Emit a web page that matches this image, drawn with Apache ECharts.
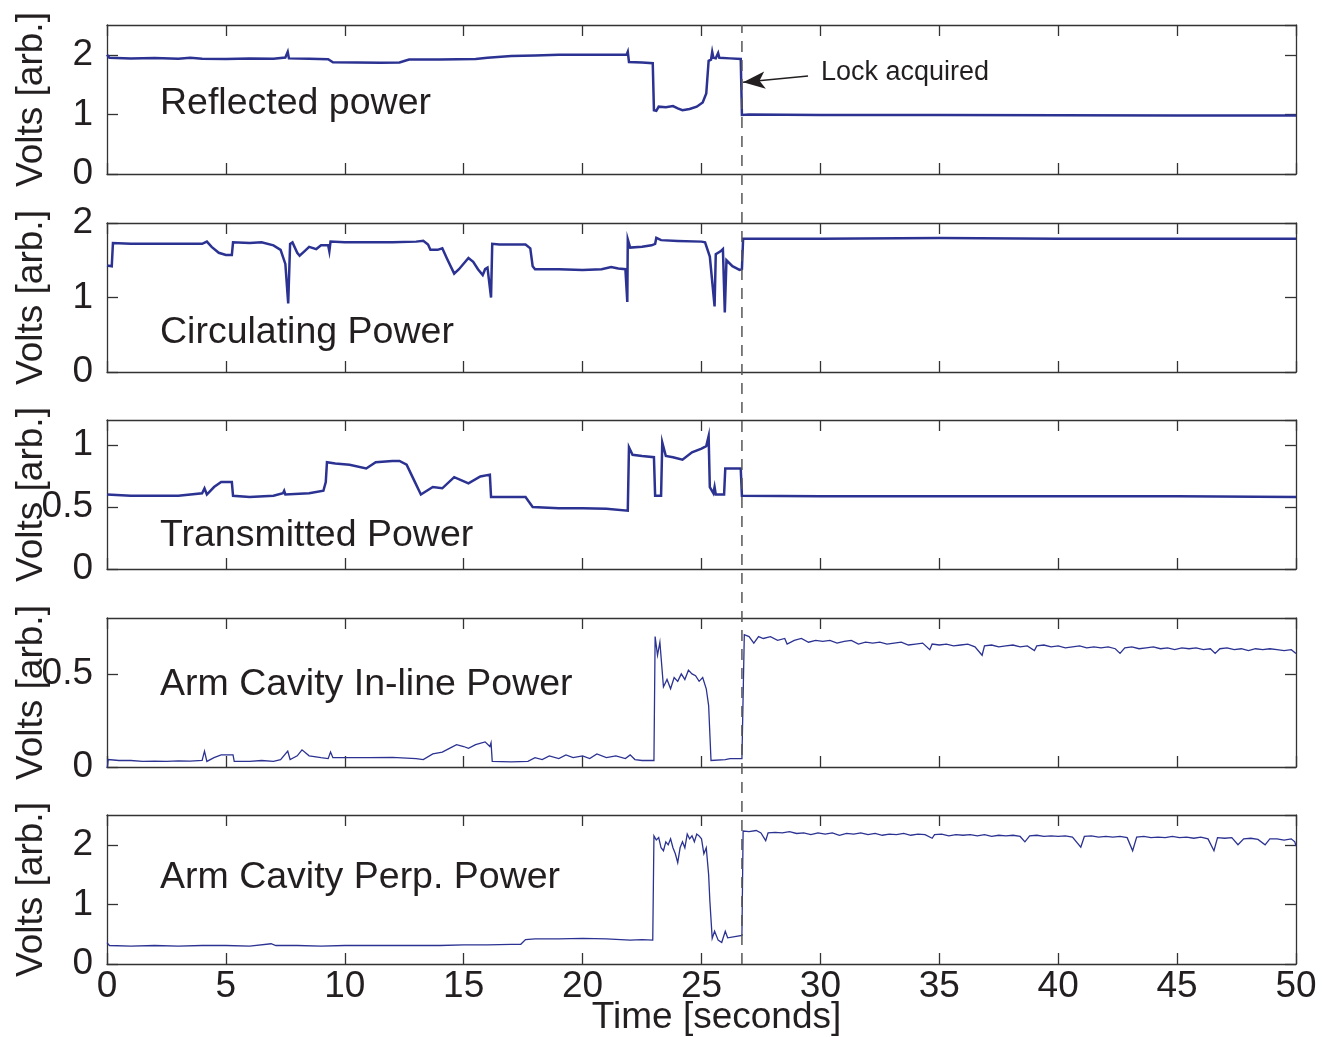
<!DOCTYPE html>
<html>
<head>
<meta charset="utf-8">
<script src="https://cdn.jsdelivr.net/npm/echarts@6/dist/echarts.min.js"></script>
<style>
html,body{margin:0;padding:0;background:#fff;}
#chart{width:1327px;height:1037px;}
</style>
</head>
<body>
<div id="chart"></div>
<script>
// ---------------- DATA ----------------
const panelTitles = ['Reflected power', 'Circulating Power', 'Transmitted Power', 'Arm Cavity In-line Power', 'Arm Cavity Perp. Power'];
const yAxisName = 'Volts [arb.]';
const xAxisName = 'Time [seconds]';
const xRange = [0, 50];
const xInterval = 5;
const yMaxes = [2.5, 2, 1.2, 0.8, 2.5];
const yIntervals = [1, 1, 0.5, 0.5, 1];
const lockTime = 26.7;
const lockLabel = 'Lock acquired';
const arrowTail = [29.48, 1.644];
const arrowHead = [26.75, 1.539];

const reflectedPower = [[0,2.0],[0.1,1.95],[1,1.94],[2,1.945],[3,1.935],[3.5,1.95],[4,1.935],[5,1.93],[6,1.94],[7,1.935],[7.5,1.955],[7.6,2.05],[7.65,1.94],[8.5,1.935],[9.3,1.925],[9.5,1.875],[10.5,1.87],[11.5,1.865],[12.3,1.87],[12.7,1.92],[14,1.92],[15.5,1.93],[16,1.95],[17,1.98],[18,1.99],[19,2.0],[20,2.0],[21,2.0],[21.85,2.0],[21.9,2.05],[21.95,1.88],[22.5,1.87],[22.95,1.86],[23.0,1.07],[23.1,1.06],[23.2,1.13],[23.5,1.12],[23.8,1.14],[24.0,1.10],[24.2,1.07],[24.5,1.09],[24.8,1.13],[25.05,1.2],[25.2,1.35],[25.3,1.9],[25.4,1.92],[25.45,2.05],[25.5,1.95],[25.6,1.94],[25.7,2.03],[25.75,1.95],[26.2,1.94],[26.65,1.93],[26.7,0.99],[27,1.0],[30,0.99],[35,0.99],[40,0.985],[45,0.98],[50,0.98]];

const circulatingPower = [[0,1.43],[0.2,1.42],[0.25,1.73],[1,1.72],[2,1.72],[3,1.72],[4,1.72],[4.2,1.75],[4.4,1.68],[4.7,1.6],[5.0,1.57],[5.25,1.57],[5.3,1.74],[6,1.73],[6.5,1.74],[7.0,1.70],[7.3,1.64],[7.5,1.45],[7.62,0.92],[7.7,1.72],[7.8,1.74],[8.0,1.60],[8.1,1.56],[8.3,1.62],[8.5,1.68],[8.8,1.65],[9.0,1.70],[9.3,1.70],[9.35,1.62],[9.4,1.75],[10,1.74],[11,1.74],[12,1.74],[13,1.75],[13.3,1.76],[13.5,1.71],[13.6,1.64],[13.9,1.64],[14.1,1.66],[14.3,1.52],[14.6,1.32],[14.8,1.38],[15.2,1.53],[15.4,1.48],[15.6,1.38],[15.8,1.30],[15.9,1.38],[16.0,1.40],[16.15,1.0],[16.2,1.72],[16.5,1.71],[17,1.71],[17.6,1.71],[17.8,1.66],[17.9,1.42],[18.0,1.38],[19,1.38],[20,1.37],[20.8,1.38],[21.2,1.41],[21.5,1.39],[21.8,1.38],[21.88,0.94],[21.9,1.78],[22.0,1.67],[22.5,1.68],[22.9,1.70],[23.05,1.72],[23.1,1.80],[23.3,1.77],[24,1.76],[25,1.75],[25.15,1.74],[25.35,1.55],[25.55,0.88],[25.6,1.58],[25.8,1.62],[25.9,1.65],[25.98,0.8],[26.05,1.50],[26.3,1.42],[26.6,1.37],[26.7,1.38],[26.75,1.79],[27,1.79],[30,1.79],[35,1.80],[40,1.79],[45,1.79],[50,1.79]];

const transmittedPower = [[0,0.60],[1,0.59],[2,0.59],[3,0.59],[4.0,0.61],[4.1,0.65],[4.2,0.60],[4.5,0.66],[4.8,0.70],[5.25,0.70],[5.3,0.59],[6,0.58],[7,0.59],[7.4,0.61],[7.45,0.63],[7.5,0.60],[8.5,0.61],[9.1,0.63],[9.2,0.70],[9.25,0.86],[9.6,0.85],[10.2,0.84],[10.9,0.81],[11.3,0.86],[12.0,0.87],[12.3,0.87],[12.6,0.84],[12.9,0.72],[13.2,0.60],[13.7,0.66],[14.1,0.65],[14.6,0.74],[15.2,0.69],[15.7,0.745],[16.1,0.76],[16.15,0.58],[17.6,0.58],[17.9,0.50],[19,0.49],[20,0.49],[21,0.485],[21.9,0.47],[21.95,0.98],[22.1,0.92],[22.5,0.91],[23.0,0.90],[23.05,0.59],[23.3,0.59],[23.35,1.02],[23.5,0.91],[23.8,0.90],[24.2,0.88],[24.6,0.94],[25.0,0.97],[25.2,0.99],[25.3,1.07],[25.35,0.66],[25.5,0.61],[25.55,0.66],[25.6,0.60],[25.95,0.60],[26.0,0.81],[26.65,0.81],[26.7,0.59],[30,0.585],[35,0.585],[40,0.585],[45,0.585],[50,0.58]];

const inlinePower = [[0,-0.02],[0.05,0.04],[0.5,0.035],[1,0.035],[1.5,0.03],[2,0.032],[2.5,0.03],[3,0.033],[3.5,0.032],[4.0,0.035],[4.1,0.085],[4.2,0.03],[4.5,0.05],[4.8,0.065],[5.3,0.065],[5.35,0.03],[6,0.03],[6.5,0.035],[7,0.03],[7.3,0.04],[7.6,0.085],[7.7,0.04],[8.0,0.06],[8.2,0.092],[8.5,0.06],[9.0,0.05],[9.3,0.045],[9.4,0.08],[9.5,0.05],[10,0.05],[11,0.05],[12,0.052],[13,0.045],[13.3,0.04],[13.7,0.07],[14.1,0.08],[14.4,0.1],[14.7,0.12],[15.0,0.11],[15.2,0.10],[15.5,0.12],[15.9,0.135],[16.1,0.11],[16.15,0.13],[16.2,0.03],[17,0.028],[17.7,0.03],[18,0.05],[18.3,0.04],[18.6,0.06],[19,0.045],[19.3,0.065],[19.6,0.05],[20,0.06],[20.3,0.045],[20.6,0.07],[21,0.05],[21.4,0.06],[21.8,0.045],[22.0,0.065],[22.2,0.04],[22.5,0.035],[23.0,0.035],[23.05,0.70],[23.15,0.60],[23.25,0.67],[23.4,0.43],[23.55,0.47],[23.7,0.42],[23.85,0.48],[24.0,0.46],[24.15,0.50],[24.3,0.47],[24.45,0.52],[24.6,0.50],[24.75,0.49],[24.9,0.46],[25.05,0.48],[25.2,0.42],[25.3,0.33],[25.4,0.035],[26.0,0.04],[26.2,0.045],[26.7,0.045],[26.8,0.71],[27.0,0.70],[27.2,0.665],[27.4,0.70],[27.6,0.69],[27.9,0.70],[28.2,0.68],[28.5,0.69],[28.6,0.66],[28.9,0.68],[29.2,0.69],[29.5,0.67],[29.8,0.68],[30.1,0.675],[30.4,0.68],[30.7,0.665],[31.0,0.675],[31.3,0.68],[31.6,0.66],[31.9,0.67],[32.2,0.665],[32.5,0.67],[32.8,0.66],[33.1,0.665],[33.4,0.67],[33.7,0.655],[34.0,0.66],[34.3,0.665],[34.6,0.63],[34.7,0.66],[35.0,0.655],[35.3,0.66],[35.6,0.65],[35.9,0.655],[36.2,0.66],[36.5,0.645],[36.8,0.60],[36.9,0.65],[37.2,0.655],[37.5,0.645],[37.8,0.65],[38.1,0.655],[38.4,0.645],[38.7,0.65],[39.0,0.625],[39.1,0.65],[39.4,0.655],[39.7,0.645],[40.0,0.65],[40.3,0.64],[40.6,0.645],[40.9,0.65],[41.2,0.64],[41.5,0.645],[41.8,0.64],[42.1,0.645],[42.4,0.635],[42.6,0.61],[42.8,0.64],[43.1,0.645],[43.4,0.635],[43.7,0.64],[44.0,0.645],[44.3,0.635],[44.6,0.64],[44.9,0.63],[45.2,0.64],[45.5,0.635],[45.8,0.64],[46.1,0.63],[46.4,0.635],[46.6,0.61],[46.8,0.635],[47.1,0.64],[47.4,0.63],[47.7,0.635],[48.0,0.625],[48.3,0.635],[48.6,0.63],[48.9,0.635],[49.2,0.63],[49.5,0.625],[49.8,0.63],[50,0.61]];

const perpPower = [[0,0.36],[0.1,0.31],[1,0.30],[2,0.31],[3,0.30],[4,0.31],[5,0.31],[6,0.30],[6.9,0.34],[7.1,0.31],[8,0.31],[9,0.30],[10,0.31],[11,0.31],[12,0.31],[13,0.31],[14,0.31],[15,0.32],[16,0.32],[17,0.33],[17.4,0.33],[17.6,0.41],[18,0.42],[19,0.42],[20,0.43],[21,0.42],[22,0.40],[22.5,0.41],[22.95,0.40],[23.0,2.15],[23.1,2.08],[23.2,2.12],[23.3,1.95],[23.4,1.90],[23.5,2.05],[23.6,2.0],[23.7,2.1],[23.8,1.95],[23.9,1.85],[24.0,1.70],[24.1,1.95],[24.2,2.05],[24.3,1.95],[24.4,2.18],[24.5,2.1],[24.6,2.15],[24.7,2.05],[24.8,2.18],[24.9,2.15],[25.0,2.10],[25.1,1.85],[25.2,1.95],[25.3,1.5],[25.35,1.07],[25.45,0.43],[25.55,0.55],[25.7,0.40],[25.85,0.36],[26.0,0.55],[26.1,0.44],[26.4,0.46],[26.7,0.48],[26.75,2.23],[27,2.22],[27.3,2.24],[27.5,2.2],[27.7,2.07],[27.8,2.2],[28.1,2.21],[28.4,2.2],[28.7,2.22],[29.0,2.19],[29.3,2.2],[29.6,2.17],[29.9,2.2],[30.2,2.18],[30.5,2.2],[30.8,2.16],[31.1,2.19],[31.4,2.18],[31.7,2.2],[32.0,2.17],[32.3,2.19],[32.6,2.16],[32.9,2.18],[33.2,2.17],[33.5,2.19],[33.8,2.16],[34.1,2.18],[34.4,2.17],[34.7,2.11],[34.8,2.17],[35.1,2.18],[35.4,2.15],[35.7,2.17],[36.0,2.16],[36.3,2.17],[36.6,2.15],[36.9,2.17],[37.2,2.14],[37.5,2.16],[37.8,2.15],[38.1,2.16],[38.4,2.14],[38.6,2.05],[38.8,2.15],[39.1,2.16],[39.4,2.14],[39.7,2.15],[40.0,2.14],[40.3,2.15],[40.6,2.13],[40.95,1.96],[41.1,2.14],[41.4,2.15],[41.7,2.13],[42.0,2.14],[42.3,2.13],[42.6,2.14],[42.9,2.12],[43.13,1.90],[43.3,2.13],[43.6,2.14],[43.9,2.12],[44.2,2.13],[44.5,2.12],[44.8,2.14],[45.1,2.12],[45.4,2.13],[45.7,2.11],[46.0,2.13],[46.3,2.10],[46.55,1.90],[46.7,2.12],[47.0,2.11],[47.3,2.12],[47.56,2.0],[47.8,2.1],[48.1,2.11],[48.4,2.09],[48.7,2.0],[48.9,2.1],[49.2,2.1],[49.5,2.08],[49.8,2.1],[49.95,2.05],[50,1.98]];

const seriesData = [reflectedPower, circulatingPower, transmittedPower, inlinePower, perpPower];

// ---------------- LAYOUT / STYLE ----------------
const FONT = "'Liberation Sans', Arial, Helvetica, sans-serif";
const TXT = '#231f20';
const AX = '#333333';
const LINE = '#2b3291';
const gridLeft = 107, gridWidth = 1189, gridHeight = 149;
const gridTops = [25, 223, 420, 618, 815];
const titleCenters = [101, 330, 533, 682, 875];
const lineWidths = [2.5, 2.5, 2.5, 1.3, 1.3];

const grids = [], xAxes = [], yAxes = [], series = [], titles = [];
const axisLineStyle = {color: AX, width: 1.3};

gridTops.forEach((top, i) => {
  grids.push({left: gridLeft, top: top, width: gridWidth, height: gridHeight, containLabel: false, outerBoundsMode: 'none'});
  const last = i === gridTops.length - 1;
  xAxes.push({
    gridIndex: i, type: 'value', position: 'bottom', min: xRange[0], max: xRange[1], interval: xInterval,
    axisLine: {show: true, onZero: false, lineStyle: axisLineStyle},
    axisTick: {show: true, inside: true, length: 11, lineStyle: axisLineStyle},
    axisLabel: {show: last, fontSize: 37, fontFamily: FONT, color: TXT, margin: 4},
    splitLine: {show: false},
    name: last ? xAxisName : '', nameLocation: 'middle', nameGap: 35, nameMoveOverlap: false,
    nameTextStyle: {fontSize: 37, fontFamily: FONT, color: TXT, padding: [0, 0, 0, 30]}
  });
  xAxes.push({
    gridIndex: i, type: 'value', position: 'top', min: xRange[0], max: xRange[1], interval: xInterval,
    axisLine: {show: true, onZero: false, lineStyle: axisLineStyle},
    axisTick: {show: true, inside: true, length: 11, lineStyle: axisLineStyle},
    axisLabel: {show: false}, splitLine: {show: false}
  });
  const yMax = yMaxes[i], yInt = yIntervals[i];
  const maxIsTick = Math.abs(Math.round(yMax / yInt) * yInt - yMax) < 1e-9;
  yAxes.push({
    gridIndex: i, type: 'value', position: 'left', min: 0, max: yMax, interval: yInt,
    axisLine: {show: true, onZero: false, lineStyle: axisLineStyle},
    axisTick: {show: true, inside: true, length: 11, lineStyle: axisLineStyle},
    axisLabel: {show: true, fontSize: 37, fontFamily: FONT, color: TXT, margin: 14, showMaxLabel: maxIsTick, showMinLabel: true},
    splitLine: {show: false},
    name: yAxisName, nameLocation: 'middle', nameGap: 57, nameRotate: 90, nameMoveOverlap: false,
    nameTextStyle: {fontSize: 37, fontFamily: FONT, color: TXT}
  });
  yAxes.push({
    gridIndex: i, type: 'value', position: 'right', min: 0, max: yMax, interval: yInt,
    axisLine: {show: true, onZero: false, lineStyle: axisLineStyle},
    axisTick: {show: true, inside: true, length: 11, lineStyle: axisLineStyle},
    axisLabel: {show: false}, splitLine: {show: false}
  });
  const s = {
    type: 'line', xAxisIndex: 2 * i, yAxisIndex: 2 * i, data: seriesData[i],
    showSymbol: false, symbol: 'none', sampling: null, animation: false, silent: true,
    lineStyle: {color: LINE, width: lineWidths[i], join: 'miter'}, z: 3
  };
  if (i === 0) {
    s.markLine = {
      silent: true, animation: false, symbol: ['none', 'arrow'], symbolSize: [13, 22],
      lineStyle: {color: TXT, width: 1.6, type: 'solid'}, label: {show: false},
      data: [[{coord: arrowTail}, {coord: arrowHead}]]
    };
  }
  series.push(s);
  titles.push({
    text: panelTitles[i], left: 160, top: titleCenters[i] - 16, padding: 0,
    textStyle: {fontSize: 37.5, fontWeight: 'normal', fontFamily: FONT, color: TXT}
  });
});

const ovIdx = gridTops.length;
grids.push({left: gridLeft, top: gridTops[0], width: gridWidth, height: gridTops[4] + gridHeight - gridTops[0], outerBoundsMode: 'none'});
xAxes.push({gridIndex: ovIdx, type: 'value', min: xRange[0], max: xRange[1], show: false});
yAxes.push({gridIndex: ovIdx, type: 'value', min: 0, max: 1, show: false});
series.push({
  type: 'line', xAxisIndex: xAxes.length - 1, yAxisIndex: yAxes.length - 1,
  data: [[lockTime, 0], [lockTime, 1]], showSymbol: false, symbol: 'none', silent: true, animation: false,
  lineStyle: {color: '#555555', width: 1.5, type: [11, 8]}, z: 5
});

titles.push({
  text: lockLabel, left: 821, top: 59, padding: 0,
  textStyle: {fontSize: 27, fontWeight: 'normal', fontFamily: FONT, color: TXT}
});

const chart = echarts.init(document.getElementById('chart'), null, {renderer: 'canvas'});
chart.setOption({
  backgroundColor: '#ffffff',
  animation: false,
  title: titles,
  grid: grids,
  xAxis: xAxes,
  yAxis: yAxes,
  series: series
});
</script>
</body>
</html>
